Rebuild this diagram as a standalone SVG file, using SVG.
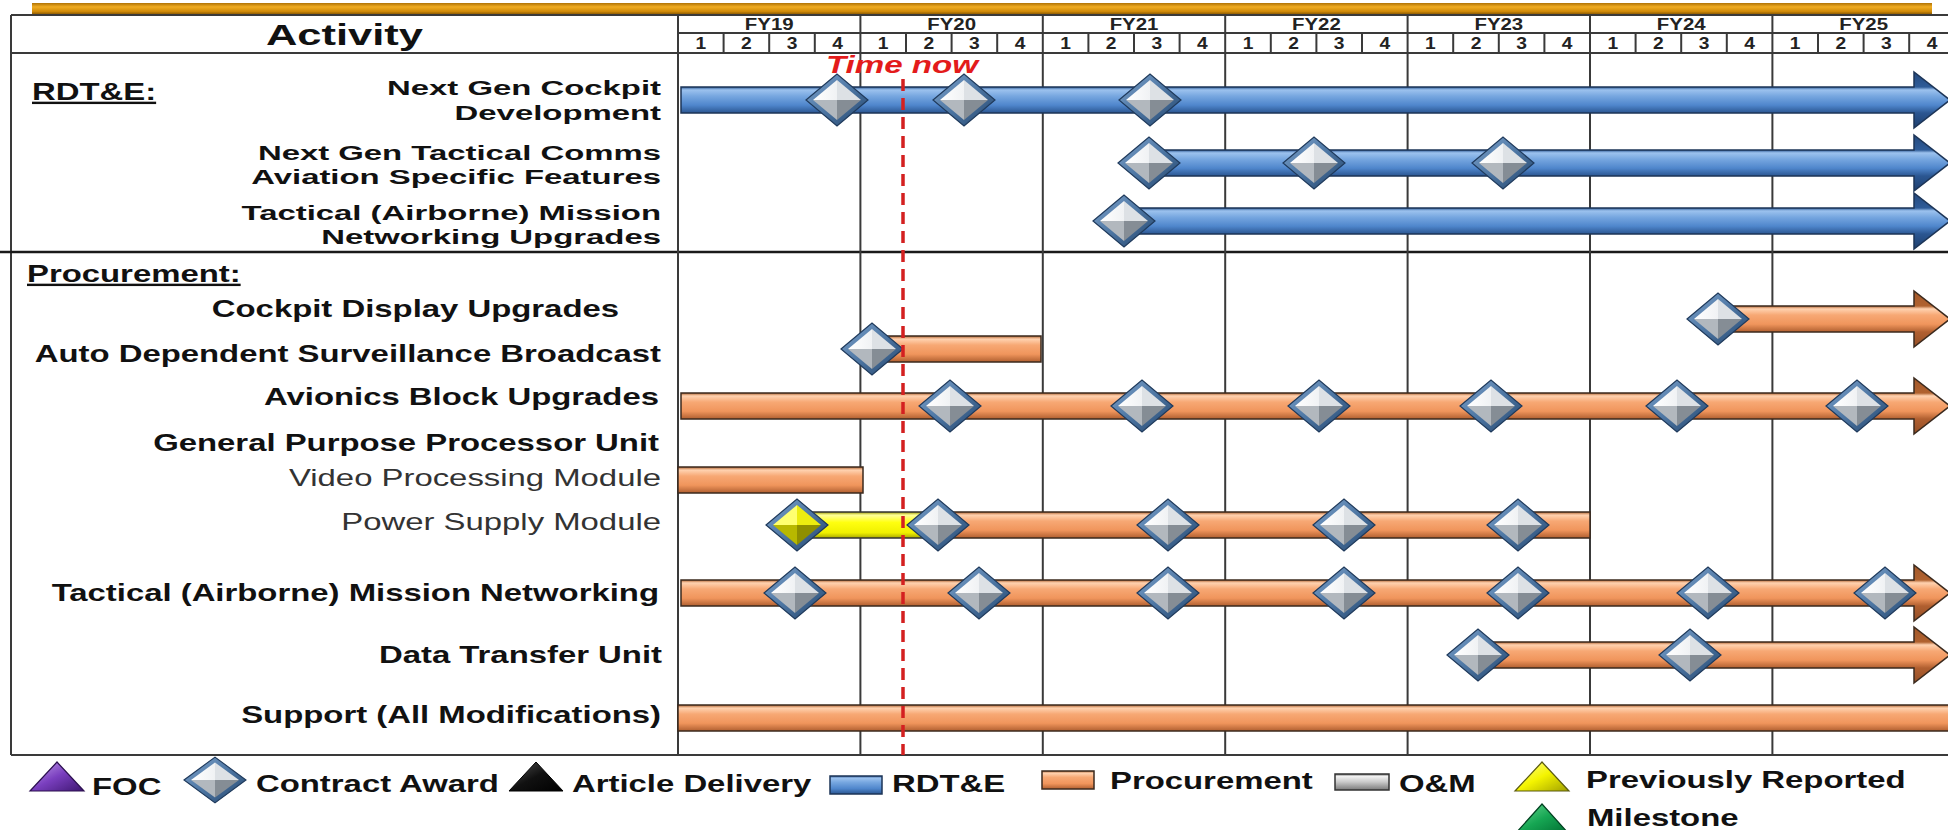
<svg xmlns="http://www.w3.org/2000/svg" xmlns:xlink="http://www.w3.org/1999/xlink" width="1948" height="830" viewBox="0 0 1948 830">
<style>
.t{font-family:"Liberation Sans",Arial,sans-serif;font-weight:bold;font-size:24px;fill:#111}
.t2{font-family:"Liberation Sans",Arial,sans-serif;font-weight:bold;font-size:21px;fill:#111}
.n{font-family:"Liberation Sans",Arial,sans-serif;font-weight:normal;font-size:24px;fill:#333}
.fy{font-family:"Liberation Sans",Arial,sans-serif;font-weight:bold;font-size:17px;fill:#222}
.q{font-family:"Liberation Sans",Arial,sans-serif;font-weight:bold;font-size:16px;fill:#222}
.grid{stroke:#3a3a3a;stroke-width:2;fill:none}
.bo{stroke:#3b2a1e;stroke-width:1.5}
.bb{stroke:#1d3557;stroke-width:1.5}
</style>
<defs>
<linearGradient id="gold" x1="0" y1="0" x2="0" y2="1">
<stop offset="0" stop-color="#b07306"/><stop offset="0.3" stop-color="#f0ac22"/><stop offset="0.65" stop-color="#d08a08"/><stop offset="1" stop-color="#5e3b00"/>
</linearGradient>
<linearGradient id="blueBar" x1="0" y1="0" x2="0" y2="1">
<stop offset="0" stop-color="#2f5c98"/><stop offset="0.12" stop-color="#9cc2ee"/><stop offset="0.35" stop-color="#77a7e0"/><stop offset="0.7" stop-color="#4f86cc"/><stop offset="1" stop-color="#2b5691"/>
</linearGradient>
<linearGradient id="blueArrow" x1="0" y1="0" x2="0" y2="1">
<stop offset="0" stop-color="#24497e"/><stop offset="0.268" stop-color="#2f5c98"/><stop offset="0.32" stop-color="#9cc2ee"/><stop offset="0.43" stop-color="#77a7e0"/><stop offset="0.593" stop-color="#4f86cc"/><stop offset="0.732" stop-color="#2b5691"/><stop offset="1" stop-color="#1e3f6e"/>
</linearGradient>
<linearGradient id="orangeBar" x1="0" y1="0" x2="0" y2="1">
<stop offset="0" stop-color="#b0622f"/><stop offset="0.12" stop-color="#ffd2b0"/><stop offset="0.35" stop-color="#f7a874"/><stop offset="0.7" stop-color="#f0955c"/><stop offset="1" stop-color="#b05f30"/>
</linearGradient>
<linearGradient id="orangeArrow" x1="0" y1="0" x2="0" y2="1">
<stop offset="0" stop-color="#a3582a"/><stop offset="0.268" stop-color="#b0622f"/><stop offset="0.32" stop-color="#ffd2b0"/><stop offset="0.43" stop-color="#f7a874"/><stop offset="0.593" stop-color="#f0955c"/><stop offset="0.732" stop-color="#b05f30"/><stop offset="1" stop-color="#944f26"/>
</linearGradient>
<linearGradient id="yellowBar" x1="0" y1="0" x2="0" y2="1">
<stop offset="0" stop-color="#9a9a00"/><stop offset="0.12" stop-color="#ffff9a"/><stop offset="0.4" stop-color="#ffff10"/><stop offset="0.8" stop-color="#f0f000"/><stop offset="1" stop-color="#a8a800"/>
</linearGradient>
<linearGradient id="grayBar" x1="0" y1="0" x2="0" y2="1">
<stop offset="0" stop-color="#6e6e6e"/><stop offset="0.15" stop-color="#f2f2f2"/><stop offset="0.5" stop-color="#c9c9c9"/><stop offset="1" stop-color="#7a7a7a"/>
</linearGradient>
<linearGradient id="diaFrame" x1="0" y1="0" x2="1" y2="1">
<stop offset="0" stop-color="#7ea3cc"/><stop offset="0.5" stop-color="#4d76a3"/><stop offset="1" stop-color="#23446b"/>
</linearGradient>
<linearGradient id="facetTop" x1="0" y1="0" x2="1" y2="0">
<stop offset="0" stop-color="#ffffff"/><stop offset="1" stop-color="#f0f2f4"/>
</linearGradient>
<linearGradient id="purpleTri" x1="0" y1="0" x2="1" y2="1">
<stop offset="0" stop-color="#c8a4ee"/><stop offset="0.5" stop-color="#7a3fbf"/><stop offset="1" stop-color="#3d1670"/>
</linearGradient>
<linearGradient id="blackTri" x1="0" y1="0" x2="1" y2="1">
<stop offset="0" stop-color="#555"/><stop offset="0.5" stop-color="#111"/><stop offset="1" stop-color="#000"/>
</linearGradient>
<linearGradient id="yellowTri" x1="0" y1="0" x2="1" y2="1">
<stop offset="0" stop-color="#ffffa0"/><stop offset="0.5" stop-color="#f4f400"/><stop offset="1" stop-color="#a0a000"/>
</linearGradient>
<linearGradient id="greenTri" x1="0" y1="0" x2="1" y2="1">
<stop offset="0" stop-color="#6fdc96"/><stop offset="0.5" stop-color="#16a653"/><stop offset="1" stop-color="#006b30"/>
</linearGradient>
<g id="dia">
<path d="M-31,0 L0,-26 L31,0 L0,26 Z" fill="url(#diaFrame)" stroke="#1f3a5c" stroke-width="1.2"/>
<path d="M-24,0 L0,-20 L0,0 Z" fill="url(#facetTop)"/>
<path d="M0,-20 L24,0 L0,0 Z" fill="#dde1e5"/>
<path d="M24,0 L0,20 L0,0 Z" fill="#858d95"/>
<path d="M0,20 L-24,0 L0,0 Z" fill="#b2b8be"/>
</g>
<g id="diaY">
<path d="M-31,0 L0,-26 L31,0 L0,26 Z" fill="url(#diaFrame)" stroke="#1f3a5c" stroke-width="1.2"/>
<path d="M-24,0 L0,-20 L0,0 Z" fill="#ffff70"/>
<path d="M0,-20 L24,0 L0,0 Z" fill="#ecec10"/>
<path d="M24,0 L0,20 L0,0 Z" fill="#8f8f00"/>
<path d="M0,20 L-24,0 L0,0 Z" fill="#b8b800"/>
</g>
</defs>

<rect width="1948" height="830" fill="#ffffff"/>

<g id="frame">
<rect x="32" y="3" width="1900" height="13" fill="url(#gold)"/>
<path class="grid" d="M11,15 H1948 M11,15 V755 M11,53 H1948 M678,33 H1948 M11,755 H1948"/>
<path d="M0,252 H1948" stroke="#1a1a1a" stroke-width="2.5"/>
<path class="grid" d="M678,15 V755 M860.4,15 V755 M1042.8,15 V755 M1225.2,15 V755 M1407.6,15 V755 M1590,15 V755 M1772.4,15 V755"/>
<path class="grid" stroke-width="1.6" d="M723.6,33V53 M769.2,33V53 M814.8,33V53 M906,33V53 M951.6,33V53 M997.2,33V53 M1088.4,33V53 M1134,33V53 M1179.6,33V53 M1270.8,33V53 M1316.4,33V53 M1362,33V53 M1453.2,33V53 M1498.8,33V53 M1544.4,33V53 M1635.6,33V53 M1681.2,33V53 M1726.8,33V53 M1818,33V53 M1863.6,33V53 M1909.2,33V53"/>
</g>

<g id="header">
<text class="t" style="font-size:29px" text-anchor="middle" transform="translate(344.5,45) scale(1.5,1)">Activity</text>
<g text-anchor="middle">
<text class="fy" transform="translate(769.2,30) scale(1.2,1)">FY19</text>
<text class="fy" transform="translate(951.6,30) scale(1.2,1)">FY20</text>
<text class="fy" transform="translate(1134,30) scale(1.2,1)">FY21</text>
<text class="fy" transform="translate(1316.4,30) scale(1.2,1)">FY22</text>
<text class="fy" transform="translate(1498.8,30) scale(1.2,1)">FY23</text>
<text class="fy" transform="translate(1681.2,30) scale(1.2,1)">FY24</text>
<text class="fy" transform="translate(1863.6,30) scale(1.2,1)">FY25</text>
<text class="q" transform="translate(700.8,49) scale(1.2,1)">1</text><text class="q" transform="translate(746.4,49) scale(1.2,1)">2</text><text class="q" transform="translate(792,49) scale(1.2,1)">3</text><text class="q" transform="translate(837.6,49) scale(1.2,1)">4</text>
<text class="q" transform="translate(883.2,49) scale(1.2,1)">1</text><text class="q" transform="translate(928.8,49) scale(1.2,1)">2</text><text class="q" transform="translate(974.4,49) scale(1.2,1)">3</text><text class="q" transform="translate(1020,49) scale(1.2,1)">4</text>
<text class="q" transform="translate(1065.6,49) scale(1.2,1)">1</text><text class="q" transform="translate(1111.2,49) scale(1.2,1)">2</text><text class="q" transform="translate(1156.8,49) scale(1.2,1)">3</text><text class="q" transform="translate(1202.4,49) scale(1.2,1)">4</text>
<text class="q" transform="translate(1248,49) scale(1.2,1)">1</text><text class="q" transform="translate(1293.6,49) scale(1.2,1)">2</text><text class="q" transform="translate(1339.2,49) scale(1.2,1)">3</text><text class="q" transform="translate(1384.8,49) scale(1.2,1)">4</text>
<text class="q" transform="translate(1430.4,49) scale(1.2,1)">1</text><text class="q" transform="translate(1476,49) scale(1.2,1)">2</text><text class="q" transform="translate(1521.6,49) scale(1.2,1)">3</text><text class="q" transform="translate(1567.2,49) scale(1.2,1)">4</text>
<text class="q" transform="translate(1612.8,49) scale(1.2,1)">1</text><text class="q" transform="translate(1658.4,49) scale(1.2,1)">2</text><text class="q" transform="translate(1704,49) scale(1.2,1)">3</text><text class="q" transform="translate(1749.6,49) scale(1.2,1)">4</text>
<text class="q" transform="translate(1795.2,49) scale(1.2,1)">1</text><text class="q" transform="translate(1840.8,49) scale(1.2,1)">2</text><text class="q" transform="translate(1886.4,49) scale(1.2,1)">3</text><text class="q" transform="translate(1932,49) scale(1.2,1)">4</text>
</g>
<text class="t" text-decoration="underline" transform="translate(32,100) scale(1.37,1)">RDT&amp;E:</text>
<text class="t" text-decoration="underline" transform="translate(27,282) scale(1.37,1)">Procurement:</text>
</g>

<g id="connectors"></g>

<g id="row-next-gen-cockpit">
<text class="t2" text-anchor="end" transform="translate(661,95) scale(1.566,1)">Next Gen Cockpit</text>
<text class="t2" text-anchor="end" transform="translate(661,119.5) scale(1.566,1)">Development</text>
<path class="bb" fill="url(#blueArrow)" d="M681,87 H1914 V72 L1950,100 L1914,128 V113 H681 Z"/>
<use href="#dia" x="837" y="100"/><use href="#dia" x="964" y="100"/><use href="#dia" x="1150" y="100"/>
</g>

<g id="row-next-gen-tactical-comms">
<text class="t2" text-anchor="end" transform="translate(661,159.5) scale(1.566,1)">Next Gen Tactical Comms</text>
<text class="t2" text-anchor="end" transform="translate(661,184) scale(1.566,1)">Aviation Specific Features</text>
<path class="bb" fill="url(#blueArrow)" d="M1149,150 H1914 V135 L1950,163 L1914,191 V176 H1149 Z"/>
<use href="#dia" x="1149" y="163"/><use href="#dia" x="1314" y="163"/><use href="#dia" x="1503" y="163"/>
</g>

<g id="row-tmn-upgrades">
<text class="t2" text-anchor="end" transform="translate(661,219.5) scale(1.566,1)">Tactical (Airborne) Mission</text>
<text class="t2" text-anchor="end" transform="translate(661,244) scale(1.566,1)">Networking Upgrades</text>
<path class="bb" fill="url(#blueArrow)" d="M1124,208 H1914 V193 L1950,221 L1914,249 V234 H1124 Z"/>
<use href="#dia" x="1124" y="221"/>
</g>

<g id="row-cockpit-display">
<text class="t" text-anchor="end" transform="translate(619,317) scale(1.37,1)">Cockpit Display Upgrades</text>
<path class="bo" fill="url(#orangeArrow)" d="M1718,306 H1914 V291 L1950,319 L1914,347 V332 H1718 Z"/>
<use href="#dia" x="1718" y="319"/>
</g>

<g id="row-adsb">
<text class="t" text-anchor="end" transform="translate(661,362) scale(1.37,1)">Auto Dependent Surveillance Broadcast</text>
<rect class="bo" x="872" y="336" width="169" height="26" fill="url(#orangeBar)"/>
<use href="#dia" x="872" y="349"/>
</g>

<g id="row-avionics">
<text class="t" text-anchor="end" transform="translate(659,405) scale(1.37,1)">Avionics Block Upgrades</text>
<path class="bo" fill="url(#orangeArrow)" d="M681,393 H1914 V378 L1950,406 L1914,434 V419 H681 Z"/>
<use href="#dia" x="950" y="406"/><use href="#dia" x="1142" y="406"/><use href="#dia" x="1319" y="406"/><use href="#dia" x="1491" y="406"/><use href="#dia" x="1677" y="406"/><use href="#dia" x="1857" y="406"/>
</g>

<g id="row-gppu">
<text class="t" text-anchor="end" transform="translate(659,451) scale(1.37,1)">General Purpose Processor Unit</text>
</g>

<g id="row-video-module">
<text class="n" text-anchor="end" transform="translate(661,486) scale(1.37,1)">Video Processing Module</text>
<rect class="bo" x="678" y="467" width="185" height="26" fill="url(#orangeBar)"/>
</g>

<g id="row-power-module">
<text class="n" text-anchor="end" transform="translate(661,530) scale(1.37,1)">Power Supply Module</text>
<rect class="bo" x="930" y="512" width="660" height="26" fill="url(#orangeBar)"/>
<rect x="797" y="512" width="138" height="26" fill="url(#yellowBar)" stroke="#333" stroke-width="1.5"/>
<use href="#diaY" x="797" y="525"/>
<use href="#dia" x="938" y="525"/><use href="#dia" x="1168" y="525"/><use href="#dia" x="1344" y="525"/><use href="#dia" x="1518" y="525"/>
</g>

<g id="row-tmn">
<text class="t" text-anchor="end" transform="translate(659,601) scale(1.37,1)">Tactical (Airborne) Mission Networking</text>
<path class="bo" fill="url(#orangeArrow)" d="M681,580 H1914 V565 L1950,593 L1914,621 V606 H681 Z"/>
<use href="#dia" x="795" y="593"/><use href="#dia" x="979" y="593"/><use href="#dia" x="1168" y="593"/><use href="#dia" x="1344" y="593"/><use href="#dia" x="1518" y="593"/><use href="#dia" x="1708" y="593"/><use href="#dia" x="1885" y="593"/>
</g>

<g id="row-dtu">
<text class="t" text-anchor="end" transform="translate(662,663) scale(1.37,1)">Data Transfer Unit</text>
<path class="bo" fill="url(#orangeArrow)" d="M1478,642 H1914 V627 L1950,655 L1914,683 V668 H1478 Z"/>
<use href="#dia" x="1478" y="655"/><use href="#dia" x="1690" y="655"/>
</g>

<g id="row-support">
<text class="t" text-anchor="end" transform="translate(661,723) scale(1.37,1)">Support (All Modifications)</text>
<rect class="bo" x="678" y="705" width="1275" height="26" fill="url(#orangeBar)"/>
</g>

<g id="time-now">
<path d="M903,79 V755" stroke="#d42020" stroke-width="3.5" stroke-dasharray="12 7"/>
<text class="t" font-style="italic" style="fill:#e31b1b;font-size:24px" transform="translate(826,73) scale(1.38,1)">Time now</text>
</g>

<g id="legend">
<g id="legend-foc">
<polygon points="30,791 84,791 57,762" fill="url(#purpleTri)" stroke="#2c1050" stroke-width="1.2"/>
<text class="t" transform="translate(92,795) scale(1.37,1)">FOC</text>
</g>
<g id="legend-contract">
<use href="#dia" transform="translate(215,780) scale(1,0.88)"/>
<text class="t" transform="translate(256,792) scale(1.37,1)">Contract Award</text>
</g>
<g id="legend-article">
<polygon points="509,791 563,791 536,762" fill="url(#blackTri)" stroke="#000" stroke-width="1"/>
<text class="t" transform="translate(572,792) scale(1.37,1)">Article Delivery</text>
</g>
<g id="legend-rdte">
<rect class="bb" x="830" y="776" width="52" height="18" fill="url(#blueBar)"/>
<text class="t" transform="translate(892,792) scale(1.37,1)">RDT&amp;E</text>
</g>
<g id="legend-proc">
<rect class="bo" x="1042" y="771" width="52" height="18" fill="url(#orangeBar)"/>
<text class="t" transform="translate(1110,789) scale(1.37,1)">Procurement</text>
</g>
<g id="legend-om">
<rect x="1335" y="774" width="54" height="16" fill="url(#grayBar)" stroke="#333" stroke-width="1.5"/>
<text class="t" transform="translate(1399,792) scale(1.37,1)">O&amp;M</text>
</g>
<g id="legend-prev">
<polygon points="1515,791 1569,791 1542,762" fill="url(#yellowTri)" stroke="#5a5a10" stroke-width="1.2"/>
<text class="t" transform="translate(1586,788) scale(1.37,1)">Previously Reported</text>
</g>
<g id="legend-milestone">
<polygon points="1515,834 1569,834 1542,804" fill="url(#greenTri)" stroke="#004020" stroke-width="1.2"/>
<text class="t" transform="translate(1587,826) scale(1.37,1)">Milestone</text>
</g>
</g>
</svg>
